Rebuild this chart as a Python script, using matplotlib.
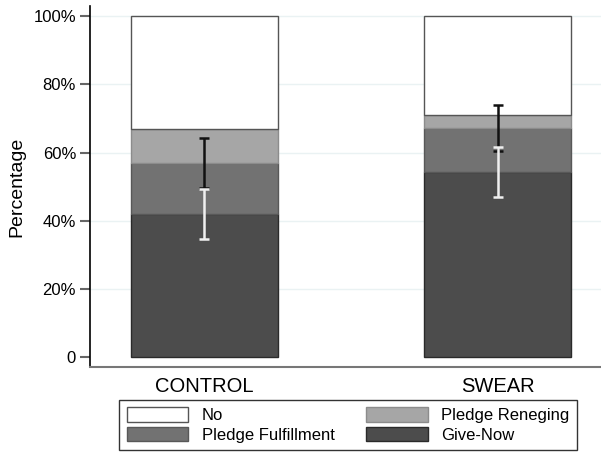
import numpy as np
import matplotlib
matplotlib.use("Agg")
import matplotlib.pyplot as plt

plt.rcParams['font.family'] = ['Liberation Sans', 'DejaVu Sans']

# values (percent)
groups = ["CONTROL", "SWEAR"]
give_now = [42.0, 54.3]
pledge_fulfill = [15.0, 12.9]
pledge_renege = [9.9, 3.9]
give_now_ci = [7.4, 7.3]
pledge_ci = [7.4, 6.8]
yticks = [0, 20, 40, 60, 80, 100]
ytick_labels = ["0", "20%", "40%", "60%", "80%", "100%"]

give_now = np.array(give_now)
pledge_fulfill = np.array(pledge_fulfill)
pledge_renege = np.array(pledge_renege)
no = 100 - give_now - pledge_fulfill - pledge_renege

fig = plt.figure(figsize=(6.01, 4.59), dpi=100)
ax = fig.add_axes([90/601, 92/459, 511/601, 361/459])

x = np.arange(len(groups))
w = 0.5

ax.set_axisbelow(True)
for yt in yticks[1:]:
    ax.axhline(yt, color='#eaf2f3', lw=1.0, zorder=0)

b1 = ax.bar(x, give_now, w, color='#4c4c4c', edgecolor='#2a2a2a', lw=1, zorder=2)
b2 = ax.bar(x, pledge_fulfill, w, bottom=give_now, color='#727272',
            edgecolor='#585858', lw=1, zorder=2)
b3 = ax.bar(x, pledge_renege, w, bottom=give_now + pledge_fulfill,
            color='#a6a6a6', edgecolor='#8c8c8c', lw=1, zorder=2)
b4 = ax.bar(x, no, w, bottom=give_now + pledge_fulfill + pledge_renege,
            color='white', edgecolor='#555555', lw=1, zorder=2)

# pledge totals error bar (black) then give-now error bar (white) on top
ax.errorbar(x, give_now + pledge_fulfill, yerr=pledge_ci, fmt='none',
            ecolor='#111111', elinewidth=1.8, capsize=3.5, capthick=1.8, zorder=3)
ax.errorbar(x, give_now, yerr=give_now_ci, fmt='none',
            ecolor='#f0f0f0', elinewidth=1.8, capsize=3.5, capthick=1.8, zorder=4)

ax.set_xlim(-0.389, 1.352)
ax.set_ylim(-2.85, 103.0)
ax.set_yticks(yticks)
ax.set_yticklabels(ytick_labels, fontsize=12)
ax.set_xticks(x)
ax.set_xticklabels(groups, fontsize=14.5)
ax.tick_params(axis='x', length=0, pad=7)
ax.tick_params(axis='y', length=7, width=1.5, color='#666666', pad=3)
ax.set_ylabel("Percentage", fontsize=14, labelpad=6)

for s in ['top', 'right']:
    ax.spines[s].set_visible(False)
ax.spines['left'].set_color('black')
ax.spines['left'].set_linewidth(1.2)
ax.spines['bottom'].set_color('#777777')
ax.spines['bottom'].set_linewidth(1.5)

handles = [b4, b2, b3, b1]
labels = ["No", "Pledge Fulfillment", "Pledge Reneging", "Give-Now"]
leg = fig.legend(handles, labels, ncol=2, loc='center',
                 bbox_to_anchor=(348/601, 1 - 425/459), fontsize=12,
                 frameon=True, fancybox=False, edgecolor='black',
                 handlelength=3.7, handleheight=0.95, handletextpad=0.8,
                 columnspacing=1.9, labelspacing=0.2, borderpad=0.45)
leg.get_frame().set_linewidth(1.0)

fig.savefig("out.png", dpi=100)
